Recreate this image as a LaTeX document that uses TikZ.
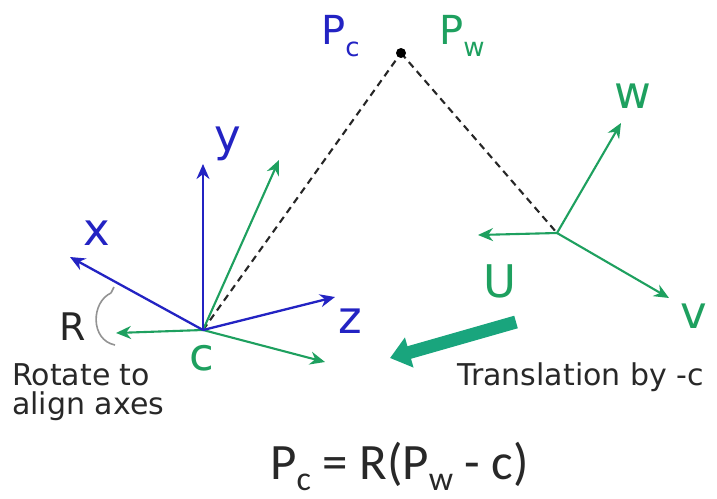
\documentclass[tikz,border=0pt]{standalone}
\usepackage{fontspec}
\setmainfont{DejaVu Sans}
\newfontfamily\carlito{Carlito}
\usetikzlibrary{arrows.meta}
\definecolor{camblue}{RGB}{35,35,195}
\definecolor{wgreen}{RGB}{30,160,95}
\definecolor{teal2}{RGB}{25,165,125}
\definecolor{txtgray}{RGB}{40,40,40}
\tikzset{
  blueaxis/.style={draw=camblue, line width=2.3pt, -{Stealth[length=15pt,width=13pt]}},
  greenaxis/.style={draw=wgreen, line width=2.1pt, -{Stealth[length=15pt,width=13pt]}},
  dashline/.style={draw=black!85, line width=2.1pt, dash pattern=on 7pt off 5pt},
  axlabel/.style={anchor=base, inner sep=0pt, font=\fontsize{45}{45}\selectfont},
  caption/.style={anchor=base west, inner sep=0pt, text=txtgray, font=\fontsize{30}{30}\selectfont},
}
\begin{document}
\begin{tikzpicture}[x=1pt,y=-1pt]
\useasboundingbox[fill=white] (0,0) rectangle (717,498);

% key points
\coordinate (P) at (401,53);
\coordinate (C) at (203,330);
\coordinate (W) at (557,233);

% camera axes tips
\coordinate (xt) at (70,257);
\coordinate (yt) at (203,164);
\coordinate (zt) at (335,297);
% world axes copies at camera
\coordinate (gl) at (116,333);
\coordinate (gr) at (325,362);
\coordinate (gu) at (279,160);
% world axes tips
\coordinate (wt) at (621,123);
\coordinate (ut) at (478,235);
\coordinate (vt) at (669,298);

% dashed lines
\draw[dashline] (C) -- (P);
\draw[dashline] (P) -- (W);
\fill (P) circle (5pt);

% world axes at camera
\draw[greenaxis] (C) -- (gu);
\draw[greenaxis] (C) -- (gl);
\draw[greenaxis] (C) -- (gr);
% camera axes
\draw[blueaxis] (C) -- (yt);
\draw[blueaxis] (C) -- (xt);
\draw[blueaxis] (C) -- (zt);

% world axes
\draw[greenaxis] (W) -- (wt);
\draw[greenaxis] (W) -- (ut);
\draw[greenaxis] (W) -- (vt);

% thick translation arrow
\coordinate (ts) at (516,322);
\coordinate (te) at (390,358);
\draw[draw=teal2, line width=13pt, -{Triangle[length=20pt,width=30pt]}] (ts) -- (te);

% rotation arc
\coordinate (a1) at (111,293);
\coordinate (a2) at (115,345);
\draw[draw=gray!85, line width=1.6pt] (a1) .. controls (91,302) and (90,340) .. (a2);
\draw[draw=gray!85, line width=1.6pt] (a1) -- (114,287);

% labels
\node[axlabel, text=camblue] (lx) at (97,245) {x};
\node[axlabel, text=camblue] (ly) at (228,151) {y};
\node[axlabel, text=camblue] (lz) at (350,333) {z};
\node[axlabel, text=wgreen] (lc) at (202,370) {c};
\node[axlabel, text=wgreen] (lw) at (633,108) {w};
\node[axlabel, text=wgreen] (lu) at (500,297) {U};
\node[axlabel, text=wgreen] (lv) at (694,328) {v};

\node[anchor=base west, inner sep=0pt, text=camblue, font=\fontsize{40}{40}\selectfont] (lpc) at (321,44)
  {P\raisebox{-12pt}{\fontsize{26}{26}\selectfont c}};
\node[anchor=base west, inner sep=0pt, text=wgreen, font=\fontsize{40}{40}\selectfont] (lpw) at (439,44)
  {P\raisebox{-12pt}{\fontsize{26}{26}\selectfont w}};

\node[anchor=base west, inner sep=0pt, text=black!85, font=\fontsize{38}{38}\selectfont] (lR) at (59,340) {R};

\node[caption] (rot1) at (12,385) {Rotate to};
\node[caption] (rot2) at (12,414) {align axes};
\node[caption] (trans) at (457,385) {Translation by -c};

\node[anchor=base west, inner sep=0pt, text=txtgray, font=\carlito\fontsize{51}{51}\selectfont] (eq) at (270,479)
  {P\raisebox{-11pt}{\fontsize{34}{34}\selectfont c} = R(P\raisebox{-11pt}{\fontsize{34}{34}\selectfont w} - c)};
\end{tikzpicture}
\end{document}
